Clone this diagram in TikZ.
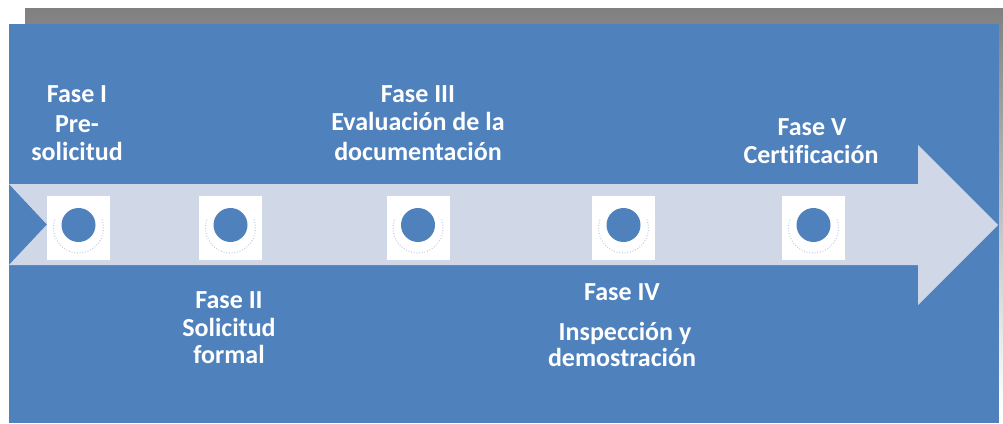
\documentclass[tikz,border=0pt]{standalone}
\usepackage{fontspec}
\setmainfont{Carlito}[Ligatures=NoCommon]
\definecolor{panel}{HTML}{4F81BD}
\definecolor{band}{HTML}{D0D8E8}
\definecolor{shade}{HTML}{808080}
\definecolor{ringdot}{HTML}{C3CCE0}
\begin{document}
\begin{tikzpicture}[x=1pt,y=-1pt,
  lbl/.style={text=white,font=\fontsize{26}{30}\selectfont\bfseries,inner sep=0pt,anchor=base},
  marker/.style={fill=white,minimum width=63pt,minimum height=64pt,inner sep=0pt},
  dot/.style={fill=panel},
  halo/.style={draw=ringdot,line width=1.1pt,dash pattern=on 0.9pt off 1.8pt},
]
\useasboundingbox (0,0) rectangle (1003,423);
% drop shadow and panel
\fill[shade] (25,8) rectangle (1003,411);
\fill[panel] (9,24) rectangle (999,423);
% timeline band with notched tail and arrow head
\fill[band] (9,184) -- (918,184) -- (918,145) -- (998,225) -- (918,305)
  -- (918,265) -- (9,265) -- (47,224.5) -- cycle;
% phase markers
\foreach \n/\cx in {1/78.5,2/230.5,3/418,4/623.5,5/813.5}{
  \node[marker] (sq\n) at (\cx,228) {};
  \draw[halo] (sq\n) ++(-20:25) arc[start angle=-20,end angle=200,radius=25];
  \fill[dot] (sq\n) ++(0,-3) circle[radius=17];
}
% phase labels
\node[lbl] (t1a) at (77,102) {Fase I};
\node[lbl] (t1b) at (77,132) {Pre-};
\node[lbl] (t1c) at (77,160) {solicitud};
\node[lbl] (t2a) at (229,308) {Fase II};
\node[lbl] (t2b) at (229,336) {Solicitud};
\node[lbl] (t2c) at (229,363) {formal};
\node[lbl] (t3a) at (418,102) {Fase III};
\node[lbl] (t3b) at (418,130) {Evaluación de la};
\node[lbl] (t3c) at (418,160) {documentación};
\node[lbl] (t4a) at (622,300) {Fase IV};
\node[lbl] (t4b) at (625,340) {Inspección y};
\node[lbl] (t4c) at (622,366) {demostración};
\node[lbl] (t5a) at (812,135) {Fase V};
\node[lbl] (t5b) at (811,163) {Certificación};
\end{tikzpicture}
\end{document}
